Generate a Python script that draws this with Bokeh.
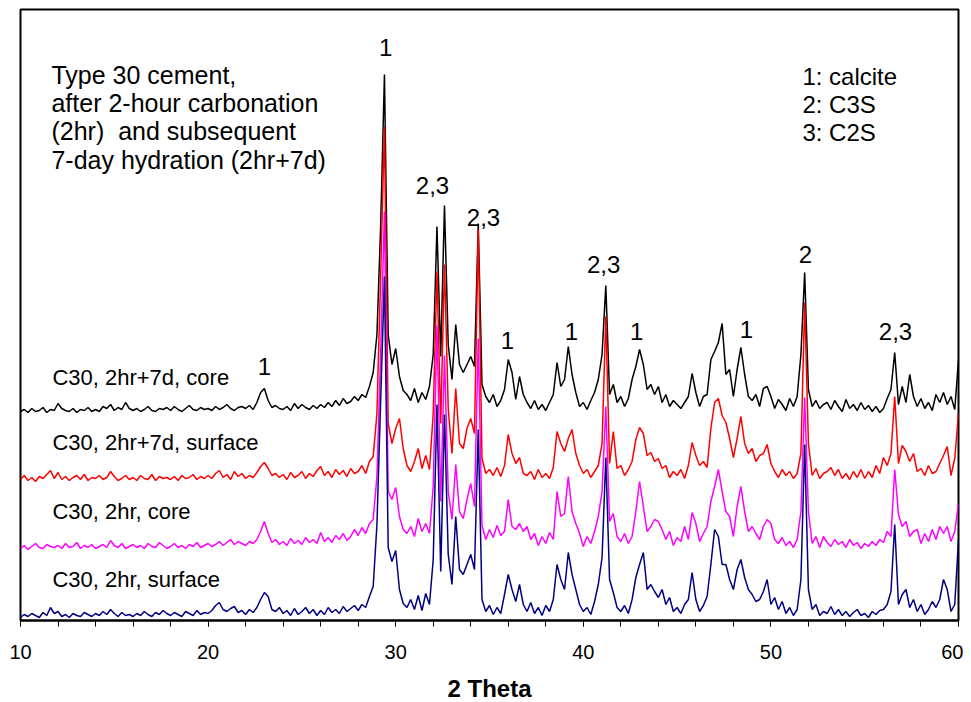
import numpy as np
from bokeh.plotting import figure
from bokeh.models import Range1d, SingleIntervalTicker
from bokeh.core.properties import value
from bokeh.embed import file_html
from bokeh.resources import INLINE

# 2-theta sampling grid of the diffractometer (0.2 degree steps)
theta = np.round(np.arange(10.0, 60.0001, 0.2), 1)

# intensities (arbitrary units), one value per grid step
core_7d = [
    3, 5, 2, 6, 3, 4, 7, 2, 5, 4,
    11, 6, 4, 3, 6, 2, 5, 4, 7, 3,
    5, 3, 8, 6, 10, 4, 7, 5, 12, 6,
    4, 6, 3, 5, 8, 4, 3, 6, 5, 7,
    4, 8, 5, 3, 6, 9, 5, 4, 7, 5,
    6, 4, 8, 5, 7, 10, 6, 4, 7, 8,
    6, 9, 5, 12, 22, 26, 14, 7, 9, 6,
    5, 8, 4, 11, 6, 10, 7, 5, 9, 6,
    10, 7, 12, 8, 14, 9, 16, 11, 13, 18,
    14, 20, 17, 28, 42, 80, 190, 340, 80, 50,
    66, 38, 24, 20, 14, 26, 12, 22, 15, 28,
    60, 188, 58, 209, 70, 35, 90, 50, 42, 50,
    58, 48, 191, 30, 18, 12, 20, 8, 14, 25,
    55, 42, 15, 38, 20, 12, 6, 14, 5, 10,
    4, 12, 20, 52, 28, 35, 68, 40, 22, 8,
    12, 5, 14, 22, 35, 60, 129, 20, 30, 12,
    18, 8, 16, 35, 48, 65, 50, 25, 30, 20,
    28, 12, 20, 8, 14, 10, 6, 12, 18, 41,
    22, 8, 18, 20, 55, 63, 72, 91, 40, 45,
    18, 45, 67, 40, 18, 14, 20, 8, 26, 28,
    18, 6, 15, 10, 4, 16, 8, 18, 60, 142,
    25, 8, 14, 6, 10, 12, 5, 14, 8, 3,
    15, 6, 10, 4, 12, 5, 9, 3, 8, 2,
    6, 16, 25, 62, 10, 28, 12, 40, 18, 8,
    16, 6, 12, 4, 20, 12, 22, 10, 18, 5,
    55,
]
surface_7d = [
    4, 8, 3, 6, 2, 7, 5, 9, 13, 5,
    11, 4, 7, 3, 6, 8, 4, 9, 3, 6,
    5, 8, 4, 6, 12, 7, 3, 5, 8, 4,
    6, 3, 8, 5, 4, 9, 3, 7, 5, 6,
    4, 7, 3, 8, 5, 6, 9, 4, 7, 5,
    8, 5, 10, 13, 6, 9, 4, 12, 7, 10,
    5, 8, 6, 11, 17, 21, 15, 8, 10, 6,
    9, 4, 11, 6, 8, 12, 5, 10, 7, 13,
    17, 8, 12, 6, 14, 9, 13, 7, 15, 10,
    12, 18, 10, 22, 27, 70, 210, 357, 60, 40,
    55, 65, 35, 18, 12, 22, 35, 15, 28, 14,
    70, 212, 60, 219, 75, 30, 95, 40, 35, 55,
    65, 50, 254, 25, 10, 14, 8, 16, 7, 18,
    49, 30, 20, 26, 10, 8, 12, 4, 14, 6,
    10, 5, 16, 52, 40, 32, 45, 54, 30, 18,
    10, 14, 6, 12, 18, 40, 167, 20, 52, 15,
    18, 8, 14, 22, 44, 56, 50, 28, 31, 22,
    25, 15, 18, 6, 12, 8, 14, 5, 18, 41,
    28, 18, 22, 16, 55, 81, 85, 68, 61, 45,
    26, 45, 67, 40, 30, 35, 22, 28, 30, 39,
    20, 12, 6, 14, 8, 12, 5, 10, 30, 181,
    40, 8, 15, 5, 10, 12, 16, 8, 14, 5,
    10, 4, 12, 6, 14, 5, 12, 6, 18, 10,
    26, 18, 30, 87, 20, 38, 32, 22, 30, 12,
    15, 8, 18, 10, 12, 20, 28, 37, 8, 25,
    70,
]
core_2hr = [
    3, 6, 2, 5, 8, 4, 3, 7, 5, 4,
    6, 3, 8, 4, 5, 9, 3, 6, 4, 7,
    3, 5, 7, 4, 11, 6, 4, 8, 3, 5,
    7, 4, 6, 3, 8, 5, 4, 9, 6, 3,
    5, 8, 4, 6, 3, 7, 5, 9, 4, 6,
    8, 5, 7, 10, 6, 9, 12, 7, 10, 8,
    6, 10, 8, 12, 20, 30, 18, 9, 12, 7,
    10, 6, 13, 8, 11, 7, 14, 9, 12, 8,
    19, 10, 14, 9, 16, 12, 18, 11, 15, 22,
    16, 24, 18, 28, 32, 75, 200, 340, 60, 52,
    64, 35, 22, 18, 25, 15, 33, 20, 28, 18,
    65, 226, 50, 196, 60, 32, 87, 40, 33, 52,
    68, 45, 213, 26, 12, 22, 14, 26, 16, 20,
    52, 25, 22, 28, 20, 25, 12, 18, 6, 15,
    8, 19, 12, 60, 35, 38, 75, 40, 28, 18,
    5, 15, 8, 20, 35, 60, 145, 30, 38, 15,
    10, 18, 8, 15, 40, 70, 45, 20, 25, 32,
    30, 22, 12, 20, 6, 14, 10, 25, 12, 39,
    28, 10, 18, 25, 50, 65, 82, 60, 40, 35,
    15, 45, 65, 40, 20, 25, 18, 12, 25, 32,
    28, 12, 8, 14, 6, 10, 4, 12, 40, 154,
    40, 8, 15, 4, 15, 9, 5, 12, 7, 10,
    4, 12, 6, 9, 3, 8, 5, 10, 6, 12,
    9, 20, 15, 82, 37, 25, 30, 15, 20, 22,
    8, 18, 10, 22, 12, 25, 18, 25, 10, 20,
    48,
]
surface_2hr = [
    2, 5, 3, 6, 4, 2, 7, 4, 12, 6,
    8, 3, 5, 2, 6, 4, 3, 7, 5, 3,
    6, 4, 8, 5, 10, 6, 3, 7, 4, 5,
    3, 6, 4, 8, 5, 3, 7, 5, 9, 6,
    4, 7, 5, 3, 8, 6, 4, 9, 5, 7,
    6, 9, 14, 17, 10, 8, 11, 13, 7, 9,
    5, 10, 7, 12, 20, 27, 23, 10, 8, 12,
    6, 9, 4, 11, 5, 8, 12, 6, 10, 4,
    9, 5, 12, 7, 10, 6, 13, 8, 11, 14,
    9, 15, 12, 23, 33, 95, 220, 343, 72, 58,
    69, 30, 16, 12, 20, 10, 24, 9, 26, 15,
    60, 215, 48, 205, 65, 35, 103, 50, 45, 55,
    65, 50, 190, 20, 8, 14, 5, 12, 6, 25,
    45, 30, 18, 35, 15, 8, 17, 6, 12, 4,
    14, 8, 20, 55, 40, 30, 67, 45, 30, 15,
    8, 12, 5, 18, 35, 62, 162, 40, 27, 12,
    8, 14, 6, 20, 42, 55, 67, 30, 35, 28,
    22, 30, 15, 22, 8, 12, 6, 15, 20, 47,
    20, 8, 14, 23, 55, 90, 83, 55, 55, 40,
    30, 50, 60, 42, 30, 25, 18, 20, 28, 40,
    15, 22, 10, 18, 6, 12, 4, 10, 40, 175,
    30, 10, 15, 4, 8, 6, 13, 5, 10, 4,
    8, 3, 7, 10, 4, 6, 2, 8, 5, 9,
    10, 15, 28, 95, 15, 25, 30, 12, 20, 8,
    15, 5, 10, 18, 12, 20, 40, 30, 8, 15,
    80,
]

series_values = [core_7d, surface_7d, core_2hr, surface_2hr]
series_names = ["C30, 2hr+7d, core", "C30, 2hr+7d, surface", "C30, 2hr, core", "C30, 2hr, surface"]
series_offsets = [206, 137, 69, 1]
series_colors = ["#000000", "#FF0000", "#FF00FF", "#000080"]
series_label_theta = 11.7
series_label_level = [243, 178, 109, 41]

peak_text = ["1", "2,3", "2,3", "1", "1", "2,3", "1", "1", "2", "2,3", "1"]
peak_theta = [29.46, 31.96, 34.68, 35.96, 39.37, 41.08, 42.84, 48.7, 51.84, 56.64, 23.0]
peak_level = [573, 435, 403, 280, 289, 356, 289, 291, 366, 289, 254]

note_text = ["Type 30 cement,", "after 2-hour carbonation", "(2hr)\u00a0 and subsequent", "7-day hydration (2hr+7d)"]
note_theta = 11.65
note_level = [546, 518, 490, 461]

key_text = ["1: calcite", "2: C3S", "3: C2S"]
key_theta = 51.68
key_level = [544, 516, 488]

FONT = "Liberation Sans"

p = figure(frame_width=938, frame_height=611,
           x_range=Range1d(10, 60), y_range=Range1d(0, 611),
           output_backend="svg", toolbar_location=None,
           min_border_left=20, min_border_right=5, min_border_top=9, min_border_bottom=75)
p.background_fill_color = "white"
p.border_fill_color = "white"
p.outline_line_color = "black"
p.outline_line_width = 2
p.grid.visible = False
p.yaxis.visible = False

ax = p.xaxis[0]
ax.ticker = SingleIntervalTicker(interval=10, num_minor_ticks=5)
ax.axis_line_width = 2
ax.axis_line_color = "black"
ax.major_tick_in = 0
ax.major_tick_out = 6
ax.minor_tick_in = 0
ax.minor_tick_out = 6
ax.major_tick_line_color = "black"
ax.minor_tick_line_color = "black"
ax.major_label_text_font = FONT
ax.major_label_text_font_size = "20px"
ax.major_label_text_color = "black"
ax.major_label_standoff = 18
ax.axis_label = "2 Theta"
ax.axis_label_text_font = FONT
ax.axis_label_text_font_size = "24px"
ax.axis_label_text_font_style = "bold"
ax.axis_label_text_color = "black"
ax.axis_label_standoff = 13

for vals, off, col in zip(series_values, series_offsets, series_colors):
    p.line(theta, np.array(vals, dtype=float) + off, line_color=col, line_width=1.5)

p.text(x=[series_label_theta] * 4, y=series_label_level, text=series_names,
       text_font=value(FONT), text_font_size="22px", text_color="black",
       text_align="left", text_baseline="middle")
p.text(x=peak_theta, y=peak_level, text=peak_text,
       text_font=value(FONT), text_font_size="24px", text_color="black",
       text_align="center", text_baseline="middle")
p.text(x=[note_theta] * 4, y=note_level, text=note_text,
       text_font=value(FONT), text_font_size="25px", text_color="black",
       text_align="left", text_baseline="middle")
p.text(x=[key_theta] * 3, y=key_level, text=key_text,
       text_font=value(FONT), text_font_size="24px", text_color="black",
       text_align="left", text_baseline="middle")

open("out.html", "w").write(file_html(p, INLINE))
